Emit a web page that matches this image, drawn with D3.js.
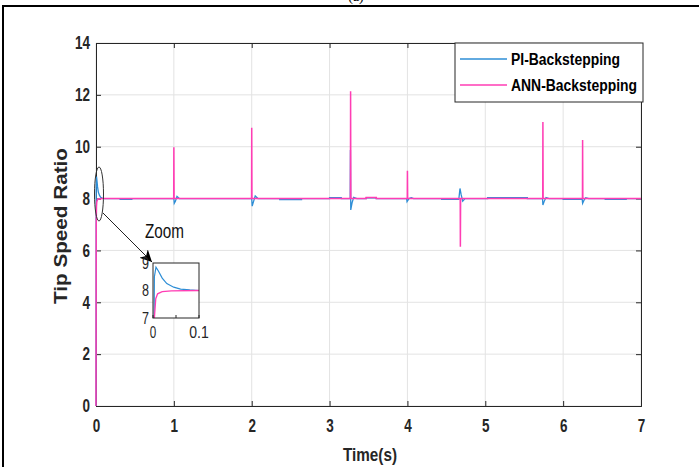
<!DOCTYPE html>
<html>
<head>
<meta charset="utf-8">
<script src="https://cdn.jsdelivr.net/npm/d3@7"></script>
<style>
  body { margin: 0; background: #fff; }
  svg { display: block; font-family: "Liberation Sans", Arial, sans-serif; }
</style>
</head>
<body>
<svg id="chart" width="699" height="467"></svg>
<script>
// x ticks (s) and y ticks (tip speed ratio)
const xTicks = [0, 1, 2, 3, 4, 5, 6, 7];
const yTicks = [0, 2, 4, 6, 8, 10, 12, 14];
const seriesNames = ["PI-Backstepping", "ANN-Backstepping"];
const seriesColors = ["#2e8ed6", "#ff3db4"];

// PI-Backstepping: [time, ratio]
const piData = [
    [0, 0], [0.003, 8.5], [0.0065, 8.85], [0.012, 8.7], [0.02, 8.45], [0.03, 8.25],
    [0.045, 8.12], [0.06, 8.05], [0.08, 8.02], [0.1, 8.0],
    [0.31, 8.0], [0.31, 7.97], [0.46, 7.97], [0.46, 8.0],
    [1.0, 8.0], [1.005, 7.82], [1.02, 7.9], [1.04, 8.08], [1.07, 8.0],
    [2.0, 8.0], [2.006, 7.71], [2.025, 7.9], [2.045, 8.1], [2.08, 8.0],
    [2.36, 8.0], [2.36, 7.96], [2.64, 7.96], [2.64, 8.0],
    [3.0, 8.0], [3.0, 8.04], [3.15, 8.04], [3.15, 8.0],
    [3.265, 8.0], [3.268, 9.87], [3.272, 7.56], [3.29, 7.85], [3.31, 8.05], [3.35, 8.0],
    [3.47, 8.0], [3.47, 8.03], [3.6, 8.03], [3.6, 8.0],
    [3.99, 8.0], [3.995, 7.88], [4.02, 8.0], [4.05, 8.03], [4.08, 8.0],
    [4.44, 8.0], [4.44, 7.97], [4.66, 7.97], [4.675, 8.39], [4.69, 8.15], [4.71, 7.9], [4.74, 8.0],
    [5.03, 8.0], [5.03, 8.04], [5.54, 8.04], [5.54, 8.0],
    [5.735, 8.0], [5.74, 7.75], [5.76, 7.92], [5.78, 8.04], [5.82, 8.0],
    [6.0, 8.0], [6.0, 7.97], [6.245, 7.97], [6.25, 7.82], [6.27, 7.95], [6.29, 8.03], [6.33, 8.0],
    [6.54, 8.0], [6.54, 7.97], [6.81, 7.97], [6.81, 8.0], [7, 8.0]
];

// ANN-Backstepping
const annData = [
    [0, 0], [0.003, 7.0], [0.006, 7.7], [0.01, 7.88], [0.02, 7.96], [0.04, 7.99], [0.1, 8.0],
    [0.998, 8.0], [1.0, 9.98], [1.003, 8.0],
    [1.998, 8.0], [2.0, 10.73], [2.003, 8.0],
    [3.268, 8.0], [3.27, 12.14], [3.273, 8.0],
    [3.47, 8.0], [3.47, 8.04], [3.6, 8.04], [3.6, 8.0],
    [3.998, 8.0], [4.0, 9.07], [4.003, 8.0],
    [4.678, 8.0], [4.68, 6.14], [4.683, 8.0],
    [5.738, 8.0], [5.74, 10.95], [5.743, 8.0],
    [6.248, 8.0], [6.25, 10.26], [6.253, 8.0],
    [7, 8.0]
];

// inset ("Zoom") axis ticks
const insetXTicks = [0, 0.05, 0.1];
const insetXLabels = ["0", "", "0.1"];
const insetYTicks = [7, 8, 9];

const svg = d3.select('#chart');
const axisColor = '#262626';
const gridColor = '#e3e3e3';

// outer frame of the figure
svg.append('rect')
    .attr('x', 3).attr('y', 6)
    .attr('width', 720).attr('height', 480)
    .attr('fill', 'none')
    .attr('stroke', '#000')
    .attr('stroke-width', 2);

// caption of the panel, clipped by the top of the picture like in the source
svg.append('text')
    .attr('x', 356).attr('y', 1)
    .attr('text-anchor', 'middle')
    .attr('font-family', 'Liberation Serif, serif')
    .attr('font-size', 14)
    .text('(a)');

// main axes
const x = d3.scaleLinear().domain([0, 7]).range([96, 641]);
const y = d3.scaleLinear().domain([0, 14]).range([406, 43]);

const plot = svg.append('g');

// grid
plot.selectAll('.vgrid').data(xTicks).enter().append('line')
    .attr('x1', d => x(d)).attr('x2', d => x(d))
    .attr('y1', y(0)).attr('y2', y(14))
    .attr('stroke', gridColor).attr('stroke-width', 1);
plot.selectAll('.hgrid').data(yTicks).enter().append('line')
    .attr('x1', x(0)).attr('x2', x(7))
    .attr('y1', d => y(d)).attr('y2', d => y(d))
    .attr('stroke', gridColor).attr('stroke-width', 1);

// MATLAB-like axes: ticks pointing inward, box on all sides
const tickLen = 5;
const xAxisB = d3.axisBottom(x).tickValues(xTicks).tickSize(-tickLen).tickPadding(13).tickFormat(d3.format('d'));
const xAxisT = d3.axisTop(x).tickValues(xTicks).tickSize(-tickLen).tickFormat('');
const yAxisL = d3.axisLeft(y).tickValues(yTicks).tickSize(-tickLen).tickPadding(6).tickFormat(d3.format('d'));
const yAxisR = d3.axisRight(y).tickValues(yTicks).tickSize(-tickLen).tickFormat('');

// narrow bold digits, like the condensed Helvetica of the source
function styleAxis(g, charW) {
    g.select('.domain').attr('stroke', axisColor);
    g.selectAll('.tick line').attr('stroke', axisColor);
    g.selectAll('.tick text')
        .attr('font-size', 18)
        .attr('font-weight', 'bold')
        .attr('fill', axisColor)
        .attr('textLength', function () { return this.textContent.length * charW; })
        .attr('lengthAdjust', 'spacingAndGlyphs');
}

plot.append('g').attr('transform', `translate(0,${y(0)})`).call(xAxisB).call(styleAxis, 7.5);
plot.append('g').attr('transform', `translate(0,${y(14)})`).call(xAxisT).call(styleAxis, 7.5);
plot.append('g').attr('transform', `translate(${x(0)},0)`).call(yAxisL).call(styleAxis, 7.5);
plot.append('g').attr('transform', `translate(${x(7)},0)`).call(yAxisR).call(styleAxis, 7.5);

// series
const line = d3.line().x(d => x(d[0])).y(d => y(d[1]));
plot.append('path').datum(piData)
    .attr('d', line).attr('fill', 'none')
    .attr('stroke', seriesColors[0]).attr('stroke-width', 1.3);
plot.append('path').datum(annData)
    .attr('d', line).attr('fill', 'none')
    .attr('stroke', seriesColors[1]).attr('stroke-width', 1.5);

// axis labels
svg.append('text')
    .attr('x', 370).attr('y', 461)
    .attr('text-anchor', 'middle')
    .attr('font-size', 19).attr('font-weight', 'bold')
    .attr('fill', axisColor)
    .attr('textLength', 54).attr('lengthAdjust', 'spacingAndGlyphs')
    .text('Time(s)');

svg.append('text')
    .attr('transform', 'translate(67,226) rotate(-90)')
    .attr('text-anchor', 'middle')
    .attr('font-size', 18).attr('font-weight', 'bold')
    .attr('fill', axisColor)
    .attr('textLength', 156).attr('lengthAdjust', 'spacingAndGlyphs')
    .text('Tip Speed Ratio');

// legend
const legendWidths = [109, 126];
const legend = svg.append('g').attr('transform', 'translate(455,43)');
legend.append('rect')
    .attr('width', 188).attr('height', 59)
    .attr('fill', '#fff').attr('stroke', axisColor).attr('stroke-width', 1);
seriesNames.forEach((name, i) => {
    const ly = 16 + i * 26;
    legend.append('line')
        .attr('x1', 5).attr('x2', 52).attr('y1', ly).attr('y2', ly)
        .attr('stroke', seriesColors[i]).attr('stroke-width', 1.5);
    legend.append('text')
        .attr('x', 56).attr('y', ly + 6)
        .attr('font-size', 16).attr('font-weight', 'bold')
        .attr('fill', '#000')
        .attr('textLength', legendWidths[i]).attr('lengthAdjust', 'spacingAndGlyphs')
        .text(name);
});

// zoom marker: ellipse around the start-up transient and an arrow to the inset
svg.append('ellipse')
    .attr('cx', 99).attr('cy', 194).attr('rx', 4.5).attr('ry', 27)
    .attr('fill', 'none').attr('stroke', '#333').attr('stroke-width', 1);

const defs = svg.append('defs');
defs.append('marker')
    .attr('id', 'arrowHead')
    .attr('viewBox', '0 0 10 10')
    .attr('refX', 10).attr('refY', 5)
    .attr('markerWidth', 12).attr('markerHeight', 12)
    .attr('markerUnits', 'userSpaceOnUse')
    .attr('orient', 'auto')
    .append('path').attr('d', 'M0,0 L10,5 L0,10 L3,5 Z').attr('fill', '#000');

svg.append('line')
    .attr('x1', 103).attr('y1', 213).attr('x2', 152).attr('y2', 262)
    .attr('stroke', '#222').attr('stroke-width', 1)
    .attr('marker-end', 'url(#arrowHead)');

svg.append('text')
    .attr('x', 145).attr('y', 238)
    .attr('font-size', 20)
    .attr('fill', '#111')
    .attr('textLength', 39).attr('lengthAdjust', 'spacingAndGlyphs')
    .text('Zoom');

// inset
const xi = d3.scaleLinear().domain([0, 0.1]).range([153, 199]);
const yi = d3.scaleLinear().domain([7, 9]).range([318, 263]);

defs.append('clipPath').attr('id', 'insetClip')
    .append('rect').attr('x', 153).attr('y', 263).attr('width', 46).attr('height', 55);

const inset = svg.append('g');
inset.append('rect')
    .attr('x', 153).attr('y', 263).attr('width', 46).attr('height', 55)
    .attr('fill', '#fff');

const lineI = d3.line().x(d => xi(d[0])).y(d => yi(d[1]));
const insetLines = inset.append('g').attr('clip-path', 'url(#insetClip)');
insetLines.append('path').datum(piData)
    .attr('d', lineI).attr('fill', 'none')
    .attr('stroke', seriesColors[0]).attr('stroke-width', 1.2);
insetLines.append('path').datum(annData)
    .attr('d', lineI).attr('fill', 'none')
    .attr('stroke', seriesColors[1]).attr('stroke-width', 1.3);

inset.append('rect')
    .attr('x', 153).attr('y', 263).attr('width', 46).attr('height', 55)
    .attr('fill', 'none').attr('stroke', axisColor).attr('stroke-width', 1);

inset.selectAll('.ixt').data(insetXTicks).enter().append('line')
    .attr('x1', d => xi(d)).attr('x2', d => xi(d))
    .attr('y1', 318).attr('y2', 315)
    .attr('stroke', axisColor);
inset.selectAll('.ixl').data(insetXTicks).enter().append('text')
    .attr('x', d => xi(d)).attr('y', 338)
    .attr('text-anchor', 'middle')
    .attr('font-size', 16).attr('fill', axisColor)
    .attr('textLength', (d, i) => insetXLabels[i].length * 6.5 || null)
    .attr('lengthAdjust', 'spacingAndGlyphs')
    .text((d, i) => insetXLabels[i]);
inset.selectAll('.iyl').data(insetYTicks).enter().append('text')
    .attr('x', 149).attr('y', d => yi(d))
    .attr('dy', '0.35em')
    .attr('text-anchor', 'end')
    .attr('font-size', 16).attr('fill', axisColor)
    .attr('textLength', 7).attr('lengthAdjust', 'spacingAndGlyphs')
    .text(d => d);
</script>
</body>
</html>
